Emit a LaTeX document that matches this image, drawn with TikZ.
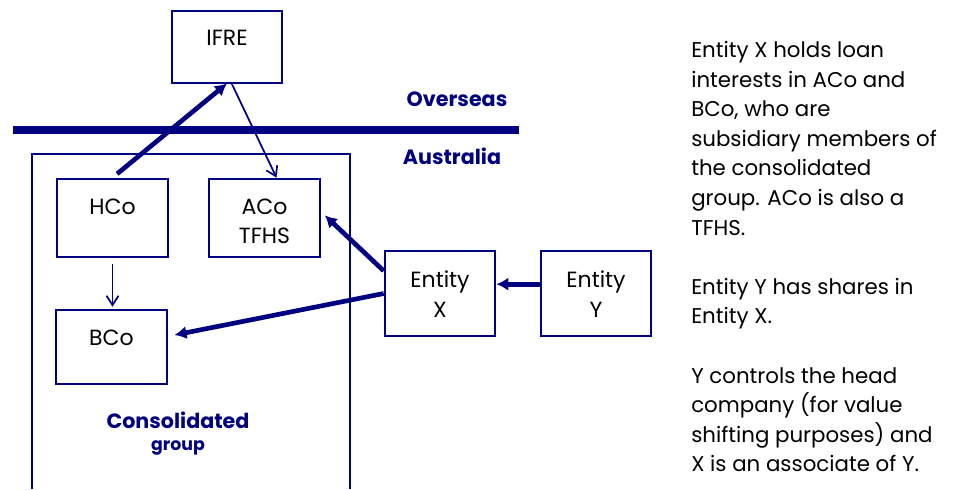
\documentclass[tikz,border=0pt]{standalone}
\usepackage{fontspec}
\setmainfont{Poppins}
\usetikzlibrary{arrows.meta}
\definecolor{navy}{RGB}{0,0,128}
\begin{document}
\begin{tikzpicture}[x=0.75pt,y=-0.75pt]
\tikzset{base/.style={draw=navy,line width=1.5pt},
box/.style={base,minimum width=83pt,minimum height=#1},
tag/.style={label={[anchor=north,align=center,inner sep=0pt,yshift=-15.5pt,font=\fontsize{16.5}{22.2}\selectfont]north:#1}},
thin/.style={navy,line width=1.3pt,-{Straight Barb[length=7pt,width=9pt]}},
fat/.style={navy,line width=3.5pt,-{Latex[length=9pt,width=10pt]}},
zone/.style={navy,font=\fontsize{15.5}{18}\selectfont\bfseries}}
\useasboundingbox (0,0) rectangle (959,489);
% overseas / australia divide
\draw[navy,line width=6pt] (13,130) -- (519,130);
\node[zone] (OS) at (457,99) {Overseas};
\node[zone] (AU) at (452,156) {Australia};
% consolidated group
\draw[base] (32,489) |- (350,154) -- (350,489);
\node[zone] (CG) at (178,420) {Consolidated};
\node[navy,font=\fontsize{13}{15}\selectfont\bfseries] (GR) at (178,448) {group};
% entities
\node[box=54pt,tag=IFRE] (IFRE) at (227,46.5) {};
\node[box=59pt,tag=HCo] (HCo) at (112.5,218) {};
\node[box=59pt,tag={ACo\\TFHS}] (ACo) at (264.5,218) {};
\node[box=55pt,tag=BCo] (BCo) at (111.5,347) {};
\node[box=64pt,tag={Entity\\X}] (EX) at (440,293.5) {};
\node[box=64pt,tag={Entity\\Y}] (EY) at (596,293.5) {};
% links
\draw[fat,shorten <=4.5pt] (HCo.north) -- (IFRE.south);
\draw[thin] ([xshift=3.5pt]IFRE.south) -- ([xshift=9pt]ACo.north);
\draw[thin,shorten <=4pt,shorten >=2pt] (HCo.south) -- (HCo.south |- BCo.north);
\draw[fat] ([yshift=17pt]EX.west) -- ([xshift=3pt,yshift=2pt]ACo.east);
\draw[fat] (EX.west) -- ([xshift=5pt,yshift=9pt]BCo.east);
\draw[fat] ([yshift=7pt]EY.west) -- ([yshift=7pt]EX.east);
% notes
\node[anchor=north west,align=left,inner sep=0pt,font=\fontsize{16}{22.2}\selectfont] (note) at (691,41)
{Entity X holds loan\\interests in ACo and\\BCo, who are\\subsidiary members of\\the consolidated\\group. ACo is also a\\TFHS.\\[22.2pt]Entity Y has shares in\\Entity X.\\[22.2pt]Y controls the head\\company (for value\\shifting purposes) and\\X is an associate of Y.};
\end{tikzpicture}
\end{document}
